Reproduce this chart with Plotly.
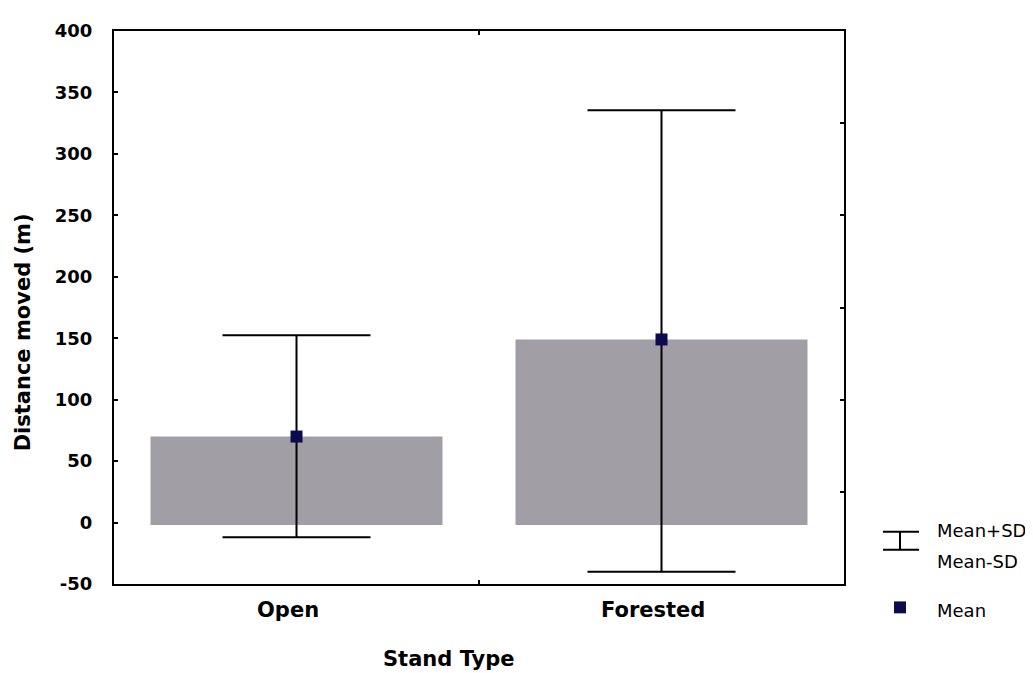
import plotly.graph_objects as go

# ---- data ----
categories = ["Open", "Forested"]
means = [70.0, 149.0]
upper = [152.5, 335.5]      # Mean + SD
lower = [-12.0, -40.0]      # Mean - SD
bar_base = -2.0
y_ticks = [-50, 0, 50, 100, 150, 200, 250, 300, 350, 400]
y_tick_labels = [str(v) for v in y_ticks]
legend_labels = ["Mean+SD", "Mean-SD", "Mean"]

BAR_COLOR = "#a19fa5"
MEAN_COLOR = "#0b0b4d"
FONT_B = "DejaVu Sans"

OFF = 8  # page body margin offset
W, H = 1033 - OFF, 673 - OFF
# plot area in page pixels
L, R, T, B = 114, 844, 28, 584


def px(xp):
    return (xp - L) / (R - L)


def py(yp):
    return (B - yp) / (B - T)


fig = go.Figure()

fig.add_trace(go.Bar(
    x=categories,
    y=[m - bar_base for m in means],
    base=bar_base,
    width=0.8,
    marker=dict(color=BAR_COLOR, line=dict(width=0)),
    hoverinfo="skip",
))

fig.add_trace(go.Scatter(
    x=categories,
    y=means,
    mode="markers",
    marker=dict(symbol="square", size=12, color=MEAN_COLOR),
    error_y=dict(
        type="data",
        symmetric=False,
        array=[u - m for u, m in zip(upper, means)],
        arrayminus=[m - l for m, l in zip(means, lower)],
        width=74,
        thickness=2,
        color="black",
    ),
))

# dummy trace to render the right-hand secondary tick axis
fig.add_trace(go.Scatter(x=[categories[0]], y=[None], yaxis="y2",
                         showlegend=False, hoverinfo="skip"))

fig.update_layout(
    width=W, height=H,
    margin=dict(l=L - OFF, r=W - (R - OFF), t=T - OFF, b=H - (B - OFF), pad=0),
    paper_bgcolor="white",
    plot_bgcolor="white",
    showlegend=False,
    font=dict(family=FONT_B, color="black"),
    xaxis=dict(
        type="category",
        tickson="boundaries",
        ticks="inside", ticklen=4, tickwidth=2, tickcolor="black",
        showline=True, linewidth=2, linecolor="black", mirror="ticks",
        showgrid=False,
        showticklabels=False,
        range=[-0.5, 1.5],
    ),
    yaxis=dict(
        range=[-50, 400],
        tickvals=y_ticks,
        ticktext=y_tick_labels,
        ticks="inside", ticklen=4, tickwidth=2, tickcolor="black",
        showline=True, linewidth=2, linecolor="black", mirror=True,
        showgrid=False, zeroline=False,
        tickfont=dict(family=FONT_B, size=18, color="black", weight="bold"),
        ticklabelstandoff=16,
    ),
    yaxis2=dict(
        overlaying="y", side="right", range=[0, 6], dtick=1,
        ticks="inside", ticklen=4, tickwidth=2, tickcolor="black",
        showticklabels=False, showgrid=False, zeroline=False, showline=False,
    ),
)

# category labels (slightly left of the category centres, as in the original)
for cat in categories:
    fig.add_annotation(text="<b>%s</b>" % cat, xref="x", yref="paper",
                       x=cat, y=py(610), xshift=-9,
                       xanchor="center", yanchor="middle", showarrow=False,
                       font=dict(family=FONT_B, size=21, color="black"))

# axis titles
fig.add_annotation(text="<b>Stand Type</b>", xref="paper", yref="paper",
                   x=px(448), y=py(659), xanchor="center", yanchor="middle",
                   showarrow=False,
                   font=dict(family=FONT_B, size=21, color="black"))
fig.add_annotation(text="<b>Distance moved (m)</b>", xref="paper", yref="paper",
                   x=px(23), y=py(331), xanchor="center", yanchor="middle",
                   showarrow=False, textangle=-90,
                   font=dict(family=FONT_B, size=21, color="black"))

# legend glyphs
lx0, lx1, lxc = 883, 919, 900
fig.add_shape(type="line", xref="paper", yref="paper",
              x0=px(lx0), x1=px(lx1), y0=py(531.5), y1=py(531.5),
              line=dict(color="black", width=2))
fig.add_shape(type="line", xref="paper", yref="paper",
              x0=px(lx0), x1=px(lx1), y0=py(549.5), y1=py(549.5),
              line=dict(color="black", width=2))
fig.add_shape(type="line", xref="paper", yref="paper",
              x0=px(lxc), x1=px(lxc), y0=py(531.5), y1=py(549.5),
              line=dict(color="black", width=2))
fig.add_shape(type="rect", xref="paper", yref="paper",
              x0=px(894), x1=px(906), y0=py(601.5), y1=py(613.5),
              fillcolor=MEAN_COLOR, line=dict(width=0))

for lbl, yc in zip(legend_labels, [530, 561, 611]):
    fig.add_annotation(text=lbl, xref="paper", yref="paper",
                       x=px(935), y=py(yc), xanchor="left", yanchor="middle",
                       showarrow=False,
                       font=dict(family=FONT_B, size=18, color="black"))

fig.write_html("out.html")
